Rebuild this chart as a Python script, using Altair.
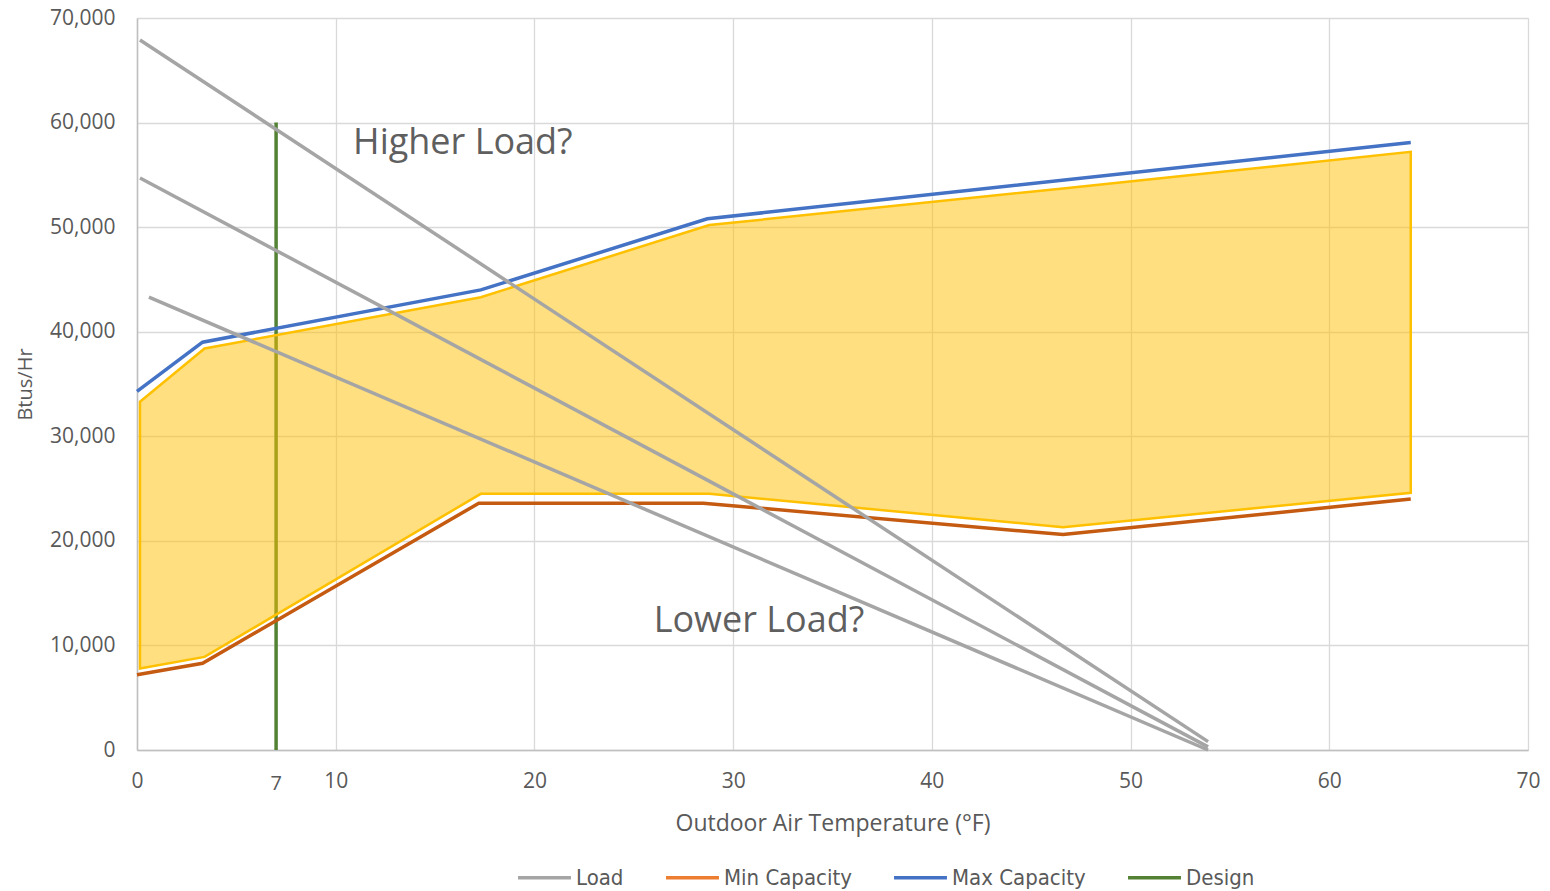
import altair as alt
import pandas as pd

# ---- data ----
max_x = [0, 3.3, 17.3, 28.7, 64.1]
max_y = [34300, 39000, 44000, 50800, 58100]

min_x = [0, 3.3, 17.2, 28.5, 46.6, 64.1]
min_y = [7200, 8300, 23600, 23600, 20600, 24000]

band_x = [0.15, 3.4, 17.3, 28.8, 46.6, 64.1]
band_hi = [33300, 38400, 43300, 50200, 53700, 57200]
band_lo = [7800, 8900, 24500, 24500, 21300, 24600]

load_x0 = [0.15, 0.15, 0.6]
load_y0 = [67900, 54700, 43300]
load_x1 = [53.9, 53.9, 53.9]
load_y1 = [800, 300, 0]

design_x = 7
design_top = 60000

series_names = ["Load", "Min Capacity", "Max Capacity", "Design"]
legend_colors = ["#A5A5A5", "#ED7D31", "#4472C4", "#548235"]
min_line_color = "#C55A11"

x_ticks = [0, 10, 20, 30, 40, 50, 60, 70]
y_ticks = [0, 10000, 20000, 30000, 40000, 50000, 60000, 70000]

notes = ["Higher Load?", "Lower Load?"]
note_x = [16.4, 31.3]
note_y = [58000, 12300]

# ---- tables ----
rows = []
for xv, yv in zip(max_x, max_y):
    rows.append({"series": "Max Capacity", "grp": "max", "x": xv, "y": yv})
for i in range(3):
    rows.append({"series": "Load", "grp": f"load{i}", "x": load_x0[i], "y": load_y0[i]})
    rows.append({"series": "Load", "grp": f"load{i}", "x": load_x1[i], "y": load_y1[i]})
lines = pd.DataFrame(rows)
min_df = pd.DataFrame({"x": min_x, "y": min_y})
band = pd.DataFrame({"x": band_x, "y": band_hi, "lo": band_lo})
design = pd.DataFrame({"series": ["Design"], "x": [design_x], "y": [0], "y1": [design_top]})
note_df = pd.DataFrame({"t": notes, "x": note_x, "y": note_y})

FONT = "Open Sans"
LEGFONT = "DejaVu Sans Condensed, Liberation Sans, sans-serif"
GRAY = "#595959"

xs = alt.Scale(domain=[0, 70], nice=False, zero=False)
ys = alt.Scale(domain=[0, 70000], nice=False)
color = alt.Color(
    "series:N",
    scale=alt.Scale(domain=series_names, range=legend_colors),
    legend=alt.Legend(
        title=None, orient="none", direction="horizontal",
        legendX=379, legendY=831,
        symbolType="stroke", symbolSize=2800, symbolStrokeWidth=3.5,
        labelFont=LEGFONT, labelFontSize=22, labelColor=GRAY,
        columnPadding=35, labelOffset=3, symbolOpacity=1,
    ),
)

x_axis = alt.Axis(
    values=x_ticks, title="Outdoor Air Temperature (°F)", grid=True,
    gridColor="#D9D9D9", gridWidth=1.3, ticks=False, tickSize=0,
    domainColor="#BFBFBF", domainWidth=1.5, labelFlush=False,
    labelFont=FONT, labelFontSize=21, labelColor=GRAY, labelPadding=20,
    titleFont=FONT, titleFontSize=23, titleFontWeight="normal", titleColor=GRAY,
    titleX=695.5, titleY=73, titleBaseline="middle",
)
y_axis = alt.Axis(
    values=y_ticks, title="Btus/Hr", format=",d", grid=True,
    gridColor="#D9D9D9", gridWidth=1.3, ticks=False, tickSize=0,
    domainColor="#BFBFBF", domainWidth=1.5, labelFlush=False,
    labelFont=FONT, labelFontSize=21, labelColor=GRAY, labelPadding=22,
    titleFont=FONT, titleFontSize=20, titleFontWeight="normal", titleColor=GRAY,
    titleX=-112, titleY=366, titleAngle=-90, titleBaseline="middle", titleAlign="center",
)

X = alt.X("x:Q", scale=xs, axis=x_axis)
Y = alt.Y("y:Q", scale=ys, axis=y_axis)

design_layer = alt.Chart(design).mark_rule(strokeWidth=3.5).encode(
    x=X, y=Y, y2="y1:Q", color=color,
)

band_layer = alt.Chart(band).mark_area(
    color="#FFC000", fillOpacity=0.5, stroke="#FFC000", strokeWidth=2.5
).encode(x=X, y=Y, y2="lo:Q")

min_layer = alt.Chart(min_df).mark_line(strokeWidth=3.5, color=min_line_color).encode(
    x=X, y=Y, order="x:Q",
)

line_layer = alt.Chart(lines).mark_line(strokeWidth=3.5).encode(
    x=X, y=Y, color=color, detail="grp:N", order="x:Q",
)

note_layer = alt.Chart(note_df).mark_text(
    font=FONT, fontSize=36, color="#5F5F5F", align="center", baseline="middle"
).encode(x=X, y=Y, text="t:N")

seven = alt.Chart(pd.DataFrame({"x": [design_x], "t": ["7"]})).mark_text(
    font=FONT, fontSize=20, color=GRAY, align="center", baseline="middle"
).encode(x=X, y=alt.value(766), text="t:N")

chart = alt.layer(design_layer, band_layer, min_layer, line_layer, note_layer, seven).properties(
    width=1391, height=732,
    padding={"left": 137, "top": 18, "right": 22, "bottom": 141},
    autosize=alt.AutoSizeParams(type="none"),
).configure_view(stroke=None).configure(background="white")

chart.save("out.html", embed_options={"renderer": "svg", "actions": False})
